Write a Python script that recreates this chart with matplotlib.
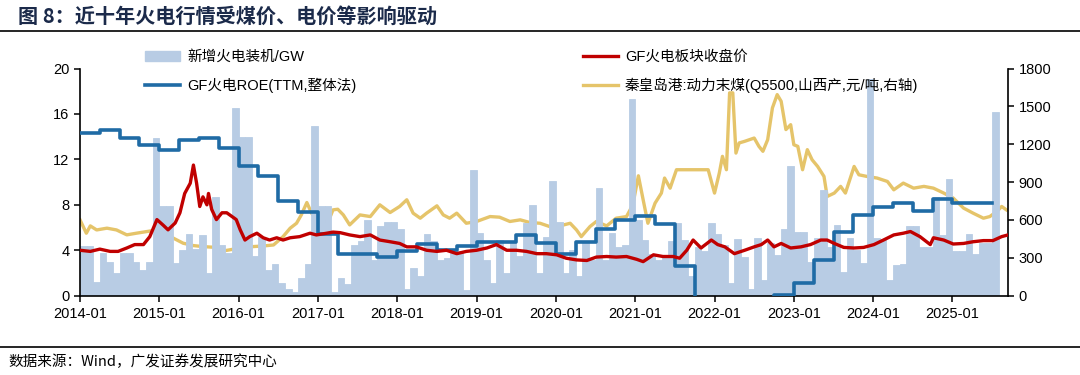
import numpy as np
import matplotlib
matplotlib.use("Agg")
import matplotlib.pyplot as plt
from matplotlib.patches import Patch
from matplotlib.lines import Line2D

plt.rcParams['font.family'] = ['Liberation Sans', 'Noto Sans CJK SC', 'DejaVu Sans']

# 新增火电装机/GW, monthly from 2014-01 to 2025-07
capacity_gw = [
    4.4, 4.4, 1.2, 3.8, 3.0, 2.0, 3.8, 3.8, 3.0, 2.3, 3.0, 13.9,    # 2014
    7.9, 7.9, 2.9, 4.0, 5.4, 4.1, 5.3, 2.0, 8.7, 4.5, 3.8, 16.5,    # 2015
    14.0, 14.0, 3.5, 5.2, 2.3, 2.8, 1.1, 0.6, 0.3, 1.6, 2.8, 14.9,  # 2016
    7.9, 7.9, 0.3, 1.6, 1.0, 4.5, 4.8, 6.7, 3.1, 6.1, 6.5, 6.5,     # 2017
    5.9, 0.6, 2.4, 1.7, 5.4, 4.8, 3.1, 3.3, 3.9, 3.9, 0.5, 11.1,    # 2018
    5.5, 3.1, 1.1, 4.9, 2.0, 4.8, 3.5, 6.4, 8.0, 2.0, 5.2, 10.1,    # 2019
    6.5, 2.0, 4.0, 1.7, 4.8, 3.1, 9.5, 3.1, 5.5, 4.3, 4.5, 17.3,    # 2020
    6.7, 4.9, 3.7, 3.1, 3.4, 4.8, 6.4, 4.9, 1.7, 4.3, 3.9, 6.4,     # 2021
    5.4, 4.5, 1.1, 5.0, 3.4, 0.6, 5.1, 1.4, 4.6, 3.6, 5.9, 11.4,    # 2022
    5.6, 5.6, 3.0, 5.1, 9.3, 4.3, 6.2, 2.1, 5.1, 4.0, 2.9, 19.1,    # 2023
    5.1, 5.0, 1.4, 2.7, 2.8, 6.1, 6.1, 4.3, 4.3, 8.7, 5.3, 10.3,    # 2024
    3.9, 3.9, 5.4, 3.7, 4.6, 4.6, 16.2,                             # 2025
]

# GF火电ROE(TTM,整体法), quarterly from 2014Q1 (negative values fall below the axis)
roe_quarterly = [
    14.3, 14.6, 13.9, 13.3,
    12.85, 13.7, 13.85, 13.0,
    11.4, 10.5, 8.3, 7.35,
    5.4, 3.65, 3.65, 3.45,
    3.9, 4.55, 4.0, 4.4,
    4.75, 4.75, 5.3, 4.6,
    3.7, 4.75, 5.9, 6.7,
    7.0, 6.3, 2.6, -3.0,
    -3.0, -3.0, -3.0, 0.1,
    1.1, 3.1, 5.6, 7.1,
    7.8, 8.15, 7.5, 8.5,
    8.15, 8.15,
]

# GF火电板块收盘价 (decimal year, value)
price_t = [2014.00, 2014.13, 2014.25, 2014.38, 2014.48, 2014.59, 2014.69, 2014.80, 2014.88, 2014.97,
           2015.05, 2015.11, 2015.20, 2015.26, 2015.32, 2015.39, 2015.43, 2015.47, 2015.51, 2015.55,
           2015.60, 2015.62, 2015.66, 2015.72, 2015.79, 2015.85, 2015.91, 2015.97, 2016.02, 2016.08,
           2016.14, 2016.23, 2016.31, 2016.39, 2016.48, 2016.56, 2016.65, 2016.77, 2016.90, 2016.98,
           2017.11, 2017.19, 2017.28, 2017.40, 2017.53, 2017.66, 2017.78, 2017.91, 2018.03, 2018.12,
           2018.24, 2018.37, 2018.50, 2018.62, 2018.75, 2018.87, 2019.00, 2019.13, 2019.25, 2019.38,
           2019.50, 2019.63, 2019.76, 2019.88, 2020.01, 2020.13, 2020.26, 2020.39, 2020.51, 2020.64,
           2020.76, 2020.89, 2021.02, 2021.10, 2021.23, 2021.35, 2021.48, 2021.56, 2021.65, 2021.73,
           2021.83, 2021.96, 2022.04, 2022.13, 2022.25, 2022.38, 2022.50, 2022.59, 2022.67, 2022.75,
           2022.84, 2022.96, 2023.09, 2023.21, 2023.34, 2023.42, 2023.51, 2023.63, 2023.76, 2023.88,
           2024.01, 2024.13, 2024.26, 2024.38, 2024.47, 2024.59, 2024.72, 2024.76, 2024.89, 2025.01,
           2025.14, 2025.26, 2025.39, 2025.51, 2025.62, 2025.70]
price_v = [4.0, 3.9, 4.1, 3.9, 3.9, 4.2, 4.5, 4.5, 5.2, 6.7,
           6.2, 5.8, 6.4, 7.3, 9.0, 9.9, 11.5, 9.9, 7.85, 8.7,
           8.0, 9.0, 7.6, 6.7, 7.3, 7.3, 7.0, 6.7, 5.8, 4.9,
           5.2, 5.5, 5.1, 4.9, 5.1, 4.9, 5.1, 5.2, 5.5, 5.35,
           5.5, 5.6, 5.55, 5.35, 5.2, 5.35, 4.9, 4.75, 4.6, 4.3,
           4.3, 4.0, 3.9, 4.0, 3.7, 3.9, 4.0, 4.2, 4.5, 4.0,
           4.0, 3.9, 3.7, 3.7, 3.6, 3.3, 3.15, 3.1, 3.4, 3.45,
           3.4, 3.45, 3.2, 3.0, 3.6, 3.45, 3.45, 3.3, 4.0, 4.9,
           4.2, 4.9, 4.5, 4.3, 3.7, 4.0, 4.3, 4.5, 4.9, 4.3,
           4.6, 4.2, 4.3, 4.5, 4.9, 4.9, 4.6, 4.25, 4.2, 4.25,
           4.5, 4.9, 5.35, 5.5, 5.65, 5.2, 4.5, 5.1, 4.9, 4.55,
           4.6, 4.75, 4.85, 4.85, 5.2, 5.35]

# 秦皇岛港:动力末煤(Q5500,山西产) 元/吨 (decimal year, value)
coal_t = [2014.00, 2014.08, 2014.13, 2014.21, 2014.34, 2014.46, 2014.59, 2014.71, 2014.84, 2014.97,
          2015.05, 2015.18, 2015.30, 2015.43, 2015.55, 2015.68, 2015.81, 2015.93, 2016.06, 2016.18,
          2016.31, 2016.44, 2016.56, 2016.65, 2016.73, 2016.79, 2016.86, 2016.92, 2016.98, 2017.07,
          2017.13, 2017.19, 2017.25, 2017.32, 2017.40, 2017.53, 2017.66, 2017.78, 2017.91, 2018.03,
          2018.12, 2018.20, 2018.29, 2018.37, 2018.50, 2018.58, 2018.66, 2018.75, 2018.87, 2019.00,
          2019.17, 2019.29, 2019.42, 2019.55, 2019.67, 2019.80, 2019.92, 2020.05, 2020.18, 2020.26,
          2020.32, 2020.43, 2020.51, 2020.64, 2020.76, 2020.89, 2020.97, 2021.04, 2021.10, 2021.16,
          2021.25, 2021.33, 2021.37, 2021.44, 2021.52, 2021.92, 2022.00, 2022.06, 2022.10, 2022.15,
          2022.19, 2022.23, 2022.27, 2022.31, 2022.38, 2022.50, 2022.56, 2022.61, 2022.67, 2022.73,
          2022.79, 2022.84, 2022.90, 2022.96, 2023.00, 2023.05, 2023.11, 2023.17, 2023.23, 2023.30,
          2023.38, 2023.42, 2023.51, 2023.59, 2023.65, 2023.76, 2023.82, 2023.92, 2024.05, 2024.18,
          2024.26, 2024.38, 2024.51, 2024.64, 2024.76, 2024.89, 2025.01, 2025.14, 2025.26, 2025.39,
          2025.47, 2025.56, 2025.62, 2025.68]
coal_v = [601, 495, 553, 521, 535, 521, 482, 495, 508, 521,
          500, 455, 416, 397, 389, 384, 355, 368, 381, 389,
          394, 402, 468, 535, 574, 640, 738, 654, 601, 588,
          588, 680, 685, 640, 561, 640, 627, 720, 659, 707,
          760, 654, 614, 654, 712, 640, 614, 654, 574, 588,
          627, 622, 588, 601, 580, 574, 548, 553, 574, 521,
          468, 548, 588, 553, 614, 627, 720, 950, 760, 574,
          733, 813, 932, 852, 998, 998, 813, 971, 1104, 998,
          1607, 1607, 1130, 1210, 1223, 1249, 1183, 1144, 1236, 1488,
          1593, 1540, 1316, 1355, 1196, 1183, 998, 1157, 1077, 1024,
          945, 786, 813, 866, 813, 1024, 958, 945, 932, 905,
          839, 892, 852, 866, 852, 813, 773, 694, 654, 614,
          627, 667, 707, 680]

years = list(range(2014, 2026))
year_labels = ['%d-01' % y for y in years]

bar_x = 2014 + np.arange(len(capacity_gw)) / 12.0
roe_x = 2014 + np.arange(len(roe_quarterly) + 1) / 4.0
roe_y = roe_quarterly + [roe_quarterly[-1]]

fig = plt.figure(figsize=(10.8, 3.75), dpi=100)
ax = fig.add_axes([80 / 1080, 1 - 295.7 / 375, 928 / 1080, 227.2 / 375])
ax2 = ax.twinx()

bar_color = '#B8CCE4'
roe_color = '#1F6BA5'
red_color = '#C00000'
coal_color = '#E5C46A'

ax.bar(bar_x, capacity_gw, width=1 / 12.0, align='edge', color=bar_color,
       edgecolor=bar_color, linewidth=0.6, zorder=1)
ax.plot(price_t, price_v, color=red_color, lw=2.4, zorder=4)
ax.plot(roe_x, roe_y, color=roe_color, lw=2.6, drawstyle='steps-post', zorder=3)
ax2.plot(coal_t, coal_v, color=coal_color, lw=2.4, zorder=2)

ax.set_zorder(ax2.get_zorder() + 1)
ax.patch.set_visible(False)

ax.set_xlim(2014.0, 2025.70)
ax.set_ylim(0, 20)
ax.set_yticks([0, 4, 8, 12, 16, 20])
ax2.set_ylim(0, 1800)
ax2.set_yticks(range(0, 1801, 300))
ax.set_xticks(years)
ax.set_xticklabels(year_labels)

for a in (ax, ax2):
    a.spines['top'].set_visible(False)
    for s in ('left', 'right', 'bottom'):
        a.spines[s].set_linewidth(1.2)
    a.tick_params(direction='out', length=4, width=1.1, labelsize=10.5, colors='black')
ax.spines['right'].set_visible(False)
ax2.spines['left'].set_visible(False)
ax2.spines['bottom'].set_visible(False)
ax.tick_params(axis='x', pad=4)

handles = [Patch(color=bar_color),
           Line2D([], [], color=roe_color, lw=2.6),
           Line2D([], [], color=red_color, lw=2.4),
           Line2D([], [], color=coal_color, lw=2.4)]
labels = ['新增火电装机/GW', 'GF火电ROE(TTM,整体法)', 'GF火电板块收盘价',
          '秦皇岛港:动力末煤(Q5500,山西产,元/吨,右轴)']
fig.legend(handles, labels, ncol=2, loc='upper left', bbox_to_anchor=(145 / 1080, 1 - 50 / 375),
           frameon=False, fontsize=10.5, handlelength=2.4, handletextpad=0.5,
           labelspacing=0.95, columnspacing=15.5, borderpad=0, borderaxespad=0)

fig.text(18 / 1080, 1 - 16 / 375, '图 8：近十年火电行情受煤价、电价等影响驱动', fontsize=14.5,
         fontweight='bold', color='#1B2A4A', va='center', ha='left',
         family=['Noto Sans CJK SC', 'DejaVu Sans'])
fig.add_artist(Line2D([0, 1], [1 - 31 / 375, 1 - 31 / 375], color='black', lw=1.2))
fig.add_artist(Line2D([0, 1], [1 - 347 / 375, 1 - 347 / 375], color='black', lw=1.2))
fig.text(8 / 1080, 1 - 362 / 375, '数据来源：Wind，广发证券发展研究中心', fontsize=10.5,
         color='black', va='center', ha='left', family=['Noto Sans CJK SC', 'DejaVu Sans'])

fig.savefig('out.png', dpi=100)
